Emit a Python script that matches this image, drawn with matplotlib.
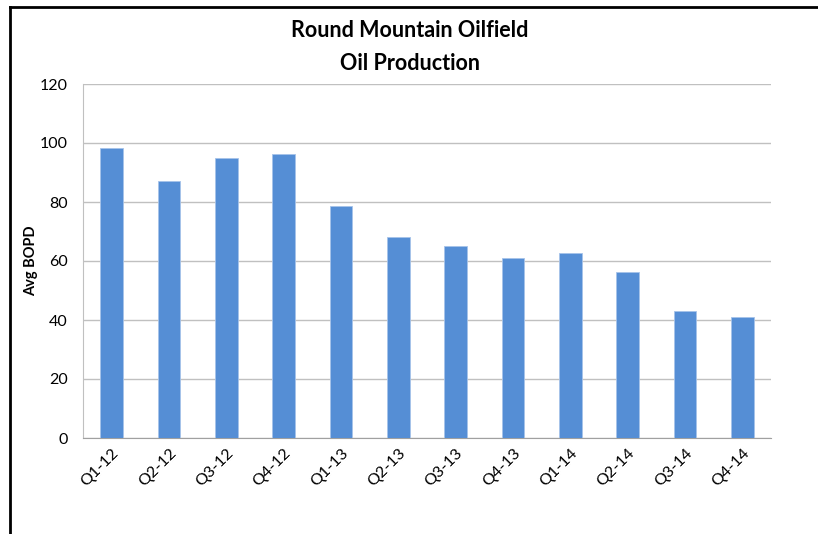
import matplotlib
matplotlib.use("Agg")
import matplotlib.pyplot as plt
from matplotlib.lines import Line2D

categories = ["Q1-12", "Q2-12", "Q3-12", "Q4-12", "Q1-13", "Q2-13",
              "Q3-13", "Q4-13", "Q1-14", "Q2-14", "Q3-14", "Q4-14"]
values = [98.3, 87.1, 94.9, 96.3, 78.6, 68.1, 65.1, 61.0, 62.7, 56.3, 43.1, 41.0]
yticks = [0, 20, 40, 60, 80, 100, 120]

plt.rcParams['font.family'] = ['Lato', 'DejaVu Sans']

fig = plt.figure(figsize=(8.18, 5.34), dpi=100)
ax = fig.add_axes([83/818, 96/534, (771-83)/818, (438-84)/534])

x = list(range(len(categories)))
ax.bar(x, values, width=0.4, color="#558ED5", edgecolor="#A6C3EA", linewidth=0.6, zorder=3)
ax.set_xlim(-0.5, len(categories) - 0.5)
ax.set_ylim(0, 120)
ax.set_yticks(yticks)
ax.set_yticklabels([str(v) for v in yticks], fontsize=11.5)
ax.set_xticks(x)
ax.set_xticklabels(categories, rotation=45, ha="right", rotation_mode="anchor", fontsize=11.5)
ax.tick_params(axis="y", length=0, pad=11)
ax.tick_params(axis="x", length=0, pad=6)
ax.grid(axis="y", color="#C0C0C0", linewidth=1, zorder=0)
for s in ["top", "right"]:
    ax.spines[s].set_visible(False)
ax.spines["left"].set_color("#C0C0C0")
ax.spines["bottom"].set_color("#A0A0A0")
ax.set_ylabel("Avg BOPD", fontsize=10.5, fontweight="bold", va="center")
ax.yaxis.set_label_coords((31 - 83) / 688, 0.5)

fig.text(410/818, 1 - 47/534, "Round Mountain Oilfield\nOil Production", ha="center", va="center",
         fontsize=15.5, fontweight="bold", linespacing=1.75)

fig.add_artist(Line2D([10/818, 10/818], [0, 1 - 7/534], color="black", linewidth=2, transform=fig.transFigure))
fig.add_artist(Line2D([10/818, 1], [1 - 7/534, 1 - 7/534], color="black", linewidth=2, transform=fig.transFigure))

fig.savefig("out.png", dpi=100)
